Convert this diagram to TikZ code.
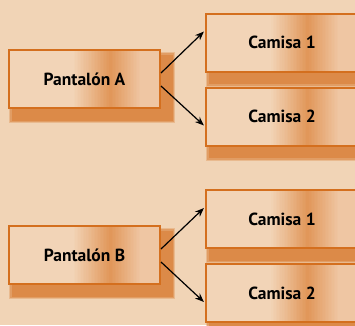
\documentclass[tikz,border=0pt]{standalone}
\usepackage{fontspec}
\setmainfont{PT Sans}
\usetikzlibrary{arrows.meta,calc}
\definecolor{bg}{HTML}{F1D4B6}
\definecolor{boxlight}{HTML}{F2D4B7}
\definecolor{boxdark}{HTML}{E1975A}
\definecolor{boxmid}{HTML}{EFC6A3}
\definecolor{edge}{HTML}{D46F1E}
\definecolor{shadowc}{HTML}{DC8A48}
\pgfdeclarelayer{back}
\pgfdeclarelayer{shadowlayer}
\pgfsetlayers{back,shadowlayer,main}
\tikzset{
  box/.style={draw=edge, line width=2pt, fill=boxlight,
    minimum width=151pt, minimum height=58pt, inner sep=0pt,
    font=\bfseries\fontsize{17.5}{19}\selectfont,
    path picture={
      \path let \p1=(path picture bounding box.south west),
                \p2=(path picture bounding box.north east) in
        \pgfextra{\xdef\bxa{\x1}\xdef\bxb{\x2}\xdef\bya{\y1}\xdef\byb{\y2}};
      \foreach \i in {0,...,24}{
        \pgfmathtruncatemacro\pct{100*\i/24}
        \fill[boxdark!\pct!boxlight]
          ({\bxa+(0.42+0.25*\i/25)*(\bxb-\bxa)},\bya) rectangle
          ({\bxa+(0.42+0.25*(\i+1)/25)*(\bxb-\bxa)+0.4},\byb);
      }
      \foreach \i in {0,...,20}{
        \pgfmathtruncatemacro\pct{100*\i/20}
        \fill[boxmid!\pct!boxdark]
          ({\bxa+(0.67+0.21*\i/21)*(\bxb-\bxa)},\bya) rectangle
          ({\bxa+(0.67+0.21*(\i+1)/21)*(\bxb-\bxa)+0.4},\byb);
      }
      \fill[boxmid] ({\bxa+0.88*(\bxb-\bxa)},\bya) rectangle (\bxb,\byb);
    }},
  link/.style={draw=black, line width=1.2pt, -{Stealth[length=9pt,width=7pt]}, shorten >=1.5pt},
}
\begin{document}
\begin{tikzpicture}[x=1pt,y=1pt]
\begin{pgfonlayer}{back}
  \fill[bg] (0,0) rectangle (355,325);
\end{pgfonlayer}
\useasboundingbox (0,0) rectangle (355,325);

\node[box] (PA) at (84.5,246) {Pantalón A};
\node[box, minimum width=152pt] (C1A) at (282,282.5) {Camisa 1};
\node[box, minimum width=152pt] (C2A) at (282,208.5) {Camisa 2};
\node[box] (PB) at (84.5,70) {Pantalón B};
\node[box, minimum width=152pt] (C1B) at (282,106) {Camisa 1};
\node[box, minimum width=152pt] (C2B) at (282,32) {Camisa 2};

\begin{pgfonlayer}{shadowlayer}
  \foreach \n in {PA,C1A,C2A,PB,C1B,C2B}{
    \fill[shadowc, opacity=0.35] ([xshift=1pt,yshift=-14pt]\n.south west) rectangle ([xshift=14pt,yshift=-3pt]\n.north east);
    \fill[shadowc, opacity=0.6] ([xshift=2pt,yshift=-13pt]\n.south west) rectangle ([xshift=13pt,yshift=-4pt]\n.north east);
    \fill[shadowc] ([xshift=3.5pt,yshift=-11.5pt]\n.south west) rectangle ([xshift=11.5pt,yshift=-5.5pt]\n.north east);
  }
\end{pgfonlayer}

\draw[link] ([yshift=6pt]PA.east) -- ([yshift=12pt]C1A.west);
\draw[link] ([yshift=-7pt]PA.east) -- ([yshift=-10pt]C2A.west);
\draw[link] ([yshift=6pt]PB.east) -- ([yshift=12pt]C1B.west);
\draw[link] ([yshift=-7pt]PB.east) -- ([yshift=-10pt]C2B.west);
\end{tikzpicture}
\end{document}
